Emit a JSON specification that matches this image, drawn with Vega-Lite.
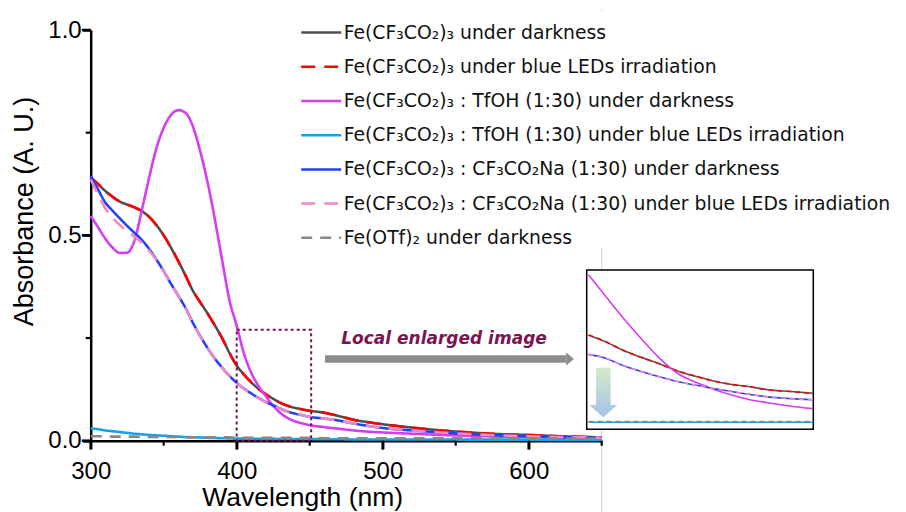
{
  "$schema": "https://vega.github.io/schema/vega-lite/v6.json",
  "width": 511,
  "height": 410.7,
  "autosize": {"type": "none"},
  "padding": {"left": 90.7, "top": 30, "right": 304.3, "bottom": 71.3},
  "background": "white",
  "config": {
    "view": {"stroke": null},
    "axis": {"grid": false},
    "legend": {"labelLimit": 0}
  },
  "datasets": {
    "names": [
      {"code": "g", "label": "Fe(CF₃CO₂)₃ under darkness"},
      {"code": "r", "label": "Fe(CF₃CO₂)₃ under blue LEDs irradiation"},
      {"code": "m", "label": "Fe(CF₃CO₂)₃ : TfOH (1:30) under darkness"},
      {"code": "c", "label": "Fe(CF₃CO₂)₃ : TfOH (1:30) under blue LEDs irradiation"},
      {"code": "b", "label": "Fe(CF₃CO₂)₃ : CF₃CO₂Na (1:30) under darkness"},
      {"code": "p", "label": "Fe(CF₃CO₂)₃ : CF₃CO₂Na (1:30) under blue LEDs irradiation"},
      {"code": "o", "label": "Fe(OTf)₂ under darkness"}
    ],
    "xmajor": [{"nm": 300, "A": -0.0107}, {"nm": 400, "A": -0.0107}, {"nm": 500, "A": -0.0107}, {"nm": 600, "A": -0.0107}],
    "xminor": [{"nm": 350, "A": -0.0061}, {"nm": 450, "A": -0.0061}, {"nm": 550, "A": -0.0061}, {"nm": 650, "A": -0.0061}],
    "ymajor": [{"nm": 296.99, "A": 0}, {"nm": 296.99, "A": 0.5}, {"nm": 296.99, "A": 1}],
    "yminor": [{"nm": 298.29, "A": 0.25}, {"nm": 298.29, "A": 0.75}],
    "main": [
      {"nm": 300, "g": 0.641, "r": 0.641, "m": 0.547, "c": 0.030, "b": 0.645, "p": 0.636, "o": 0.011},
      {"nm": 305, "g": 0.625, "r": 0.625, "m": 0.520, "c": 0.028, "b": 0.612, "p": 0.600, "o": 0.011},
      {"nm": 310, "g": 0.608, "r": 0.608, "m": 0.492, "c": 0.025, "b": 0.580, "p": 0.566, "o": 0.011},
      {"nm": 315, "g": 0.594, "r": 0.594, "m": 0.470, "c": 0.023, "b": 0.560, "p": 0.543, "o": 0.010},
      {"nm": 320, "g": 0.582, "r": 0.582, "m": 0.457, "c": 0.021, "b": 0.541, "p": 0.525, "o": 0.010},
      {"nm": 325, "g": 0.575, "r": 0.575, "m": 0.458, "c": 0.019, "b": 0.523, "p": 0.510, "o": 0.010},
      {"nm": 330, "g": 0.568, "r": 0.568, "m": 0.487, "c": 0.017, "b": 0.506, "p": 0.497, "o": 0.010},
      {"nm": 335, "g": 0.559, "r": 0.559, "m": 0.561, "c": 0.0155, "b": 0.489, "p": 0.482, "o": 0.009},
      {"nm": 340, "g": 0.545, "r": 0.545, "m": 0.640, "c": 0.014, "b": 0.467, "p": 0.463, "o": 0.009},
      {"nm": 345, "g": 0.525, "r": 0.525, "m": 0.712, "c": 0.013, "b": 0.441, "p": 0.440, "o": 0.009},
      {"nm": 350, "g": 0.500, "r": 0.500, "m": 0.762, "c": 0.012, "b": 0.413, "p": 0.412, "o": 0.009},
      {"nm": 355, "g": 0.470, "r": 0.470, "m": 0.793, "c": 0.011, "b": 0.382, "p": 0.382, "o": 0.009},
      {"nm": 360, "g": 0.437, "r": 0.437, "m": 0.805, "c": 0.010, "b": 0.353, "p": 0.353, "o": 0.009},
      {"nm": 365, "g": 0.402, "r": 0.402, "m": 0.798, "c": 0.009, "b": 0.323, "p": 0.323, "o": 0.008},
      {"nm": 370, "g": 0.365, "r": 0.365, "m": 0.765, "c": 0.0085, "b": 0.287, "p": 0.287, "o": 0.008},
      {"nm": 375, "g": 0.337, "r": 0.337, "m": 0.705, "c": 0.008, "b": 0.255, "p": 0.255, "o": 0.008},
      {"nm": 380, "g": 0.310, "r": 0.310, "m": 0.630, "c": 0.007, "b": 0.226, "p": 0.226, "o": 0.008},
      {"nm": 385, "g": 0.281, "r": 0.281, "m": 0.540, "c": 0.0065, "b": 0.200, "p": 0.200, "o": 0.008},
      {"nm": 390, "g": 0.250, "r": 0.250, "m": 0.440, "c": 0.006, "b": 0.178, "p": 0.178, "o": 0.008},
      {"nm": 395, "g": 0.214, "r": 0.214, "m": 0.343, "c": 0.0055, "b": 0.158, "p": 0.158, "o": 0.008},
      {"nm": 400, "g": 0.183, "r": 0.183, "m": 0.280, "c": 0.005, "b": 0.141, "p": 0.141, "o": 0.007},
      {"nm": 405, "g": 0.161, "r": 0.161, "m": 0.212, "c": 0.005, "b": 0.127, "p": 0.127, "o": 0.007},
      {"nm": 410, "g": 0.142, "r": 0.142, "m": 0.165, "c": 0.005, "b": 0.115, "p": 0.115, "o": 0.007},
      {"nm": 415, "g": 0.126, "r": 0.126, "m": 0.133, "c": 0.0045, "b": 0.104, "p": 0.104, "o": 0.007},
      {"nm": 420, "g": 0.113, "r": 0.113, "m": 0.108, "c": 0.0045, "b": 0.094, "p": 0.094, "o": 0.007},
      {"nm": 425, "g": 0.102, "r": 0.102, "m": 0.085, "c": 0.0045, "b": 0.086, "p": 0.086, "o": 0.007},
      {"nm": 430, "g": 0.092, "r": 0.092, "m": 0.067, "c": 0.004, "b": 0.078, "p": 0.078, "o": 0.007},
      {"nm": 435, "g": 0.085, "r": 0.085, "m": 0.055, "c": 0.004, "b": 0.071, "p": 0.071, "o": 0.007},
      {"nm": 440, "g": 0.080, "r": 0.080, "m": 0.047, "c": 0.004, "b": 0.066, "p": 0.066, "o": 0.007},
      {"nm": 445, "g": 0.076, "r": 0.076, "m": 0.042, "c": 0.004, "b": 0.062, "p": 0.062, "o": 0.007},
      {"nm": 450, "g": 0.073, "r": 0.073, "m": 0.038, "c": 0.004, "b": 0.058, "p": 0.058, "o": 0.007},
      {"nm": 460, "g": 0.068, "r": 0.068, "m": 0.033, "c": 0.0035, "b": 0.054, "p": 0.054, "o": 0.006},
      {"nm": 470, "g": 0.060, "r": 0.060, "m": 0.029, "c": 0.0035, "b": 0.049, "p": 0.049, "o": 0.006},
      {"nm": 480, "g": 0.051, "r": 0.051, "m": 0.025, "c": 0.003, "b": 0.042, "p": 0.042, "o": 0.006},
      {"nm": 490, "g": 0.045, "r": 0.045, "m": 0.022, "c": 0.003, "b": 0.036, "p": 0.036, "o": 0.006},
      {"nm": 500, "g": 0.040, "r": 0.040, "m": 0.020, "c": 0.003, "b": 0.031, "p": 0.031, "o": 0.006},
      {"nm": 520, "g": 0.032, "r": 0.032, "m": 0.017, "c": 0.003, "b": 0.025, "p": 0.025, "o": 0.006},
      {"nm": 540, "g": 0.025, "r": 0.025, "m": 0.014, "c": 0.003, "b": 0.020, "p": 0.020, "o": 0.006},
      {"nm": 560, "g": 0.020, "r": 0.020, "m": 0.012, "c": 0.0025, "b": 0.016, "p": 0.016, "o": 0.006},
      {"nm": 580, "g": 0.016, "r": 0.016, "m": 0.010, "c": 0.0025, "b": 0.013, "p": 0.013, "o": 0.005},
      {"nm": 600, "g": 0.014, "r": 0.014, "m": 0.009, "c": 0.0025, "b": 0.011, "p": 0.011, "o": 0.005},
      {"nm": 620, "g": 0.011, "r": 0.011, "m": 0.007, "c": 0.002, "b": 0.009, "p": 0.009, "o": 0.005},
      {"nm": 640, "g": 0.009, "r": 0.009, "m": 0.006, "c": 0.002, "b": 0.008, "p": 0.008, "o": 0.005},
      {"nm": 650, "g": 0.008, "r": 0.008, "m": 0.006, "c": 0.002, "b": 0.007, "p": 0.007, "o": 0.005}
    ],
    "inset": [
      {"nm": 400.4, "g": 0.160, "r": 0.160, "m": 0.262, "c": 0.012, "b": 0.127, "p": 0.127, "o": 0.013},
      {"nm": 404, "g": 0.149, "r": 0.149, "m": 0.227, "c": 0.012, "b": 0.121, "p": 0.121, "o": 0.013},
      {"nm": 408, "g": 0.134, "r": 0.134, "m": 0.189, "c": 0.012, "b": 0.108, "p": 0.108, "o": 0.013},
      {"nm": 412, "g": 0.122, "r": 0.122, "m": 0.154, "c": 0.012, "b": 0.098, "p": 0.098, "o": 0.013},
      {"nm": 416, "g": 0.111, "r": 0.111, "m": 0.121, "c": 0.012, "b": 0.089, "p": 0.089, "o": 0.013},
      {"nm": 420, "g": 0.099, "r": 0.099, "m": 0.095, "c": 0.012, "b": 0.081, "p": 0.081, "o": 0.013},
      {"nm": 424, "g": 0.090, "r": 0.090, "m": 0.080, "c": 0.012, "b": 0.075, "p": 0.075, "o": 0.013},
      {"nm": 428, "g": 0.082, "r": 0.082, "m": 0.068, "c": 0.012, "b": 0.069, "p": 0.069, "o": 0.013},
      {"nm": 432, "g": 0.076, "r": 0.076, "m": 0.058, "c": 0.012, "b": 0.064, "p": 0.064, "o": 0.013},
      {"nm": 436, "g": 0.072, "r": 0.072, "m": 0.050, "c": 0.012, "b": 0.059, "p": 0.059, "o": 0.013},
      {"nm": 440, "g": 0.067, "r": 0.067, "m": 0.045, "c": 0.012, "b": 0.055, "p": 0.055, "o": 0.013},
      {"nm": 445, "g": 0.064, "r": 0.064, "m": 0.039, "c": 0.012, "b": 0.052, "p": 0.052, "o": 0.013},
      {"nm": 449.9, "g": 0.061, "r": 0.061, "m": 0.035, "c": 0.012, "b": 0.050, "p": 0.050, "o": 0.013}
    ]
  },
  "layer": [
    {
      "resolve": {"axis": {"x": "independent", "y": "independent"}},
      "layer": [
        {
          "data": {"values": [{"nm": 650, "A": -0.174, "A2": 1.05}]},
          "mark": {"type": "rule", "color": "#d4d4d4", "strokeWidth": 1},
          "encoding": {
            "x": {"field": "nm", "type": "quantitative", "scale": {"domain": [300, 650], "nice": false, "zero": false}, "axis": null},
            "y": {"field": "A", "type": "quantitative", "scale": {"domain": [0, 1], "nice": false}, "axis": null},
            "y2": {"field": "A2"}
          }
        },
        {
          "data": {"name": "main"},
          "transform": [
            {"fold": ["g", "r", "m", "c", "b", "p", "o"], "as": ["code", "A"]},
            {"lookup": "code", "from": {"data": {"name": "names"}, "key": "code", "fields": ["label"]}}
          ],
          "mark": {"type": "line", "strokeWidth": 2.6, "interpolate": "monotone"},
          "encoding": {
            "x": {
              "field": "nm", "type": "quantitative",
              "scale": {"domain": [300, 650], "nice": false, "zero": false},
              "axis": {
                "orient": "bottom",
                "title": "Wavelength (nm)",
                "values": [300, 400, 500, 600],
                "format": "d",
                "ticks": true, "tickSize": 8, "tickWidth": 2.5, "tickColor": "#000000", "tickOpacity": 1,
                "domainColor": "black", "domainWidth": 2.5,
                "labelFont": "Liberation Sans", "labelFontSize": 24, "labelColor": "black", "labelPadding": 11,
                "labelFlush": false, "labelOverlap": false,
                "titleFont": "Liberation Sans", "titleFontSize": 26.5, "titleFontWeight": "normal", "titleColor": "black",
                "titleX": 211.5, "titleY": 64.8, "titleBaseline": "alphabetic", "titleAlign": "center", "titleAnchor": null
              }
            },
            "y": {
              "field": "A", "type": "quantitative",
              "scale": {"domain": [0, 1], "nice": false},
              "axis": {
                "orient": "left",
                "title": "Absorbance (A. U.)",
                "values": [0, 0.5, 1],
                "format": ".1f",
                "ticks": true, "tickSize": 8, "tickWidth": 2.5, "tickColor": "#000000", "tickOpacity": 1,
                "domainColor": "black", "domainWidth": 2.5,
                "labelFont": "Liberation Sans", "labelFontSize": 24, "labelColor": "black", "labelPadding": 1.5,
                "labelFlush": false, "labelOverlap": false,
                "titleFont": "Liberation Sans", "titleFontSize": 27, "titleFontWeight": "normal", "titleColor": "black",
                "titleX": -57.7, "titleY": 181, "titleBaseline": "alphabetic", "titleAlign": "center", "titleAnchor": null, "titleAngle": 270
              }
            },
            "color": {
              "field": "label", "type": "nominal", "title": null,
              "scale": {
                "domain": [
                  "Fe(CF₃CO₂)₃ under darkness",
                  "Fe(CF₃CO₂)₃ under blue LEDs irradiation",
                  "Fe(CF₃CO₂)₃ : TfOH (1:30) under darkness",
                  "Fe(CF₃CO₂)₃ : TfOH (1:30) under blue LEDs irradiation",
                  "Fe(CF₃CO₂)₃ : CF₃CO₂Na (1:30) under darkness",
                  "Fe(CF₃CO₂)₃ : CF₃CO₂Na (1:30) under blue LEDs irradiation",
                  "Fe(OTf)₂ under darkness"
                ],
                "range": ["#4f4f4f", "#ff0000", "#d63cf2", "#16a0f0", "#2242f5", "#f287c6", "#888888"]
              },
              "legend": {
                "orient": "none", "legendX": 209, "legendY": -18.9,
                "symbolType": "stroke", "symbolSize": 1600, "symbolStrokeWidth": 2.5,
                "labelFont": "DejaVu Sans", "labelFontSize": 18.8, "labelColor": "#111111", "labelOffset": 1,
                "rowPadding": 2.2, "padding": 0, "fillColor": "white"
              }
            },
            "strokeDash": {
              "field": "label", "type": "nominal", "title": null,
              "scale": {
                "domain": [
                  "Fe(CF₃CO₂)₃ under darkness",
                  "Fe(CF₃CO₂)₃ under blue LEDs irradiation",
                  "Fe(CF₃CO₂)₃ : TfOH (1:30) under darkness",
                  "Fe(CF₃CO₂)₃ : TfOH (1:30) under blue LEDs irradiation",
                  "Fe(CF₃CO₂)₃ : CF₃CO₂Na (1:30) under darkness",
                  "Fe(CF₃CO₂)₃ : CF₃CO₂Na (1:30) under blue LEDs irradiation",
                  "Fe(OTf)₂ under darkness"
                ],
                "range": [[1, 0], [14, 9], [1, 0], [1, 0], [1, 0], [14, 9], [11, 8]]
              },
              "legend": {
                "orient": "none", "legendX": 209, "legendY": -18.9,
                "symbolType": "stroke", "symbolSize": 1600, "symbolStrokeWidth": 2.5,
                "labelFont": "DejaVu Sans", "labelFontSize": 18.8, "labelColor": "#111111", "labelOffset": 1,
                "rowPadding": 2.2, "padding": 0, "fillColor": "white"
              }
            }
          }
        },
        {
          "data": {"name": "xmajor"},
          "mark": {"type": "tick", "orient": "vertical", "color": "#000000", "size": 9, "thickness": 2.5, "opacity": 1, "filled": true},
          "encoding": {
            "x": {"field": "nm", "type": "quantitative", "scale": {"domain": [300, 650], "nice": false, "zero": false}, "axis": null},
            "y": {"field": "A", "type": "quantitative", "scale": {"domain": [0, 1], "nice": false}, "axis": null}
          }
        },
        {
          "data": {"name": "xminor"},
          "mark": {"type": "tick", "orient": "vertical", "color": "#000000", "size": 5, "thickness": 2.2, "opacity": 1, "filled": true},
          "encoding": {
            "x": {"field": "nm", "type": "quantitative", "scale": {"domain": [300, 650], "nice": false, "zero": false}, "axis": null},
            "y": {"field": "A", "type": "quantitative", "scale": {"domain": [0, 1], "nice": false}, "axis": null}
          }
        },
        {
          "data": {"name": "ymajor"},
          "mark": {"type": "tick", "orient": "horizontal", "color": "#000000", "size": 9, "thickness": 2.5, "opacity": 1, "filled": true},
          "encoding": {
            "x": {"field": "nm", "type": "quantitative", "scale": {"domain": [300, 650], "nice": false, "zero": false}, "axis": null},
            "y": {"field": "A", "type": "quantitative", "scale": {"domain": [0, 1], "nice": false}, "axis": null}
          }
        },
        {
          "data": {"name": "yminor"},
          "mark": {"type": "tick", "orient": "horizontal", "color": "#000000", "size": 5, "thickness": 2.2, "opacity": 1, "filled": true},
          "encoding": {
            "x": {"field": "nm", "type": "quantitative", "scale": {"domain": [300, 650], "nice": false, "zero": false}, "axis": null},
            "y": {"field": "A", "type": "quantitative", "scale": {"domain": [0, 1], "nice": false}, "axis": null}
          }
        },
        {
          "data": {"values": [{"nm": 400, "nm2": 451, "A": 0, "A2": 0.27}]},
          "mark": {"type": "rect", "fill": null, "fillOpacity": 0, "stroke": "#7b1450", "strokeWidth": 2, "strokeDash": [3, 3]},
          "encoding": {
            "x": {"field": "nm", "type": "quantitative", "scale": {"domain": [300, 650], "nice": false, "zero": false}, "axis": null},
            "x2": {"field": "nm2"},
            "y": {"field": "A", "type": "quantitative", "scale": {"domain": [0, 1], "nice": false}, "axis": null},
            "y2": {"field": "A2"}
          }
        },
        {
          "data": {"values": [{"nm": 460.5, "nm2": 625.5, "A": 0.199}]},
          "mark": {"type": "rule", "color": "#8c8c8c", "strokeWidth": 7.5},
          "encoding": {
            "x": {"field": "nm", "type": "quantitative", "scale": {"domain": [300, 650], "nice": false, "zero": false}, "axis": null},
            "x2": {"field": "nm2"},
            "y": {"field": "A", "type": "quantitative", "scale": {"domain": [0, 1], "nice": false}, "axis": null}
          }
        },
        {
          "data": {"values": [{"nm": 628.3, "A": 0.199}]},
          "mark": {"type": "point", "shape": "M-0.6,-1L0.6,0L-0.6,1Z", "size": 169, "filled": true, "color": "#8c8c8c", "opacity": 1, "strokeWidth": 0},
          "encoding": {
            "x": {"field": "nm", "type": "quantitative", "scale": {"domain": [300, 650], "nice": false, "zero": false}, "axis": null},
            "y": {"field": "A", "type": "quantitative", "scale": {"domain": [0, 1], "nice": false}, "axis": null}
          }
        },
        {
          "data": {"values": [{"nm": 542, "A": 0.2355, "txt": "Local enlarged image"}]},
          "mark": {"type": "text", "font": "DejaVu Sans", "fontSize": 17, "fontWeight": "bold", "fontStyle": "italic", "color": "#7b1450", "align": "center", "baseline": "alphabetic"},
          "encoding": {
            "x": {"field": "nm", "type": "quantitative", "scale": {"domain": [300, 650], "nice": false, "zero": false}, "axis": null},
            "y": {"field": "A", "type": "quantitative", "scale": {"domain": [0, 1], "nice": false}, "axis": null},
            "text": {"field": "txt"}
          }
        }
      ]
    },
    {
      "layer": [
        {
          "data": {"values": [{"nm": 400, "nm2": 450, "A": 0, "A2": 0.27}]},
          "mark": {"type": "rect", "fill": "white", "stroke": "black", "strokeWidth": 1.5},
          "encoding": {
            "x": {"field": "nm", "type": "quantitative", "scale": {"domain": [400, 450], "range": [496, 722.6], "nice": false, "zero": false}, "axis": null},
            "x2": {"field": "nm2"},
            "y": {"field": "A", "type": "quantitative", "scale": {"domain": [0, 0.27], "range": [399.3, 240], "nice": false, "zero": false}, "axis": null},
            "y2": {"field": "A2"}
          }
        },
        {
          "data": {"name": "inset"},
          "transform": [{"fold": ["g", "r", "m", "c", "b", "p", "o"], "as": ["code", "A"]}],
          "encoding": {
            "x": {"field": "nm", "type": "quantitative", "scale": {"domain": [400, 450], "range": [496, 722.6], "nice": false, "zero": false}, "axis": null},
            "y": {"field": "A", "type": "quantitative", "scale": {"domain": [0, 0.27], "range": [399.3, 240], "nice": false, "zero": false}, "axis": null}
          },
          "layer": [
            {"transform": [{"filter": "datum.code == 'g'"}], "mark": {"type": "line", "color": "#555555", "strokeWidth": 1.6, "interpolate": "monotone"}},
            {"transform": [{"filter": "datum.code == 'r'"}], "mark": {"type": "line", "color": "#ff0000", "strokeWidth": 1.6, "strokeDash": [5, 4], "interpolate": "monotone"}},
            {"transform": [{"filter": "datum.code == 'm'"}], "mark": {"type": "line", "color": "#d63cf2", "strokeWidth": 1.6, "interpolate": "monotone"}},
            {"transform": [{"filter": "datum.code == 'c'"}], "mark": {"type": "line", "color": "#16a0f0", "strokeWidth": 1.6, "interpolate": "monotone"}},
            {"transform": [{"filter": "datum.code == 'b'"}], "mark": {"type": "line", "color": "#2242f5", "strokeWidth": 1.6, "interpolate": "monotone"}},
            {"transform": [{"filter": "datum.code == 'p'"}], "mark": {"type": "line", "color": "#f287c6", "strokeWidth": 1.6, "strokeDash": [5, 4], "interpolate": "monotone"}},
            {"transform": [{"filter": "datum.code == 'o'"}], "mark": {"type": "line", "color": "#888888", "strokeWidth": 1.6, "strokeDash": [5, 4], "interpolate": "monotone"}}
          ]
        },
        {
          "data": {"values": [{"nm": 403.66, "A": 0.0624}]},
          "mark": {
            "type": "point",
            "shape": "M-0.296,-1L0.296,-1L0.296,0.504L0.565,0.504L0,1L-0.565,0.504L-0.296,0.504Z",
            "size": 2460, "filled": true, "opacity": 1, "fillOpacity": 1, "strokeWidth": 0,
            "fill": {"gradient": "linear", "x1": 0, "y1": 0, "x2": 0, "y2": 1, "stops": [{"offset": 0, "color": "#d6eac8"}, {"offset": 1, "color": "#a3c3e9"}]}
          },
          "encoding": {
            "x": {"field": "nm", "type": "quantitative", "scale": {"domain": [400, 450], "range": [496, 722.6], "nice": false, "zero": false}, "axis": null},
            "y": {"field": "A", "type": "quantitative", "scale": {"domain": [0, 0.27], "range": [399.3, 240], "nice": false, "zero": false}, "axis": null}
          }
        }
      ]
    }
  ],
  "resolve": {"scale": {"x": "independent", "y": "independent"}}
}
